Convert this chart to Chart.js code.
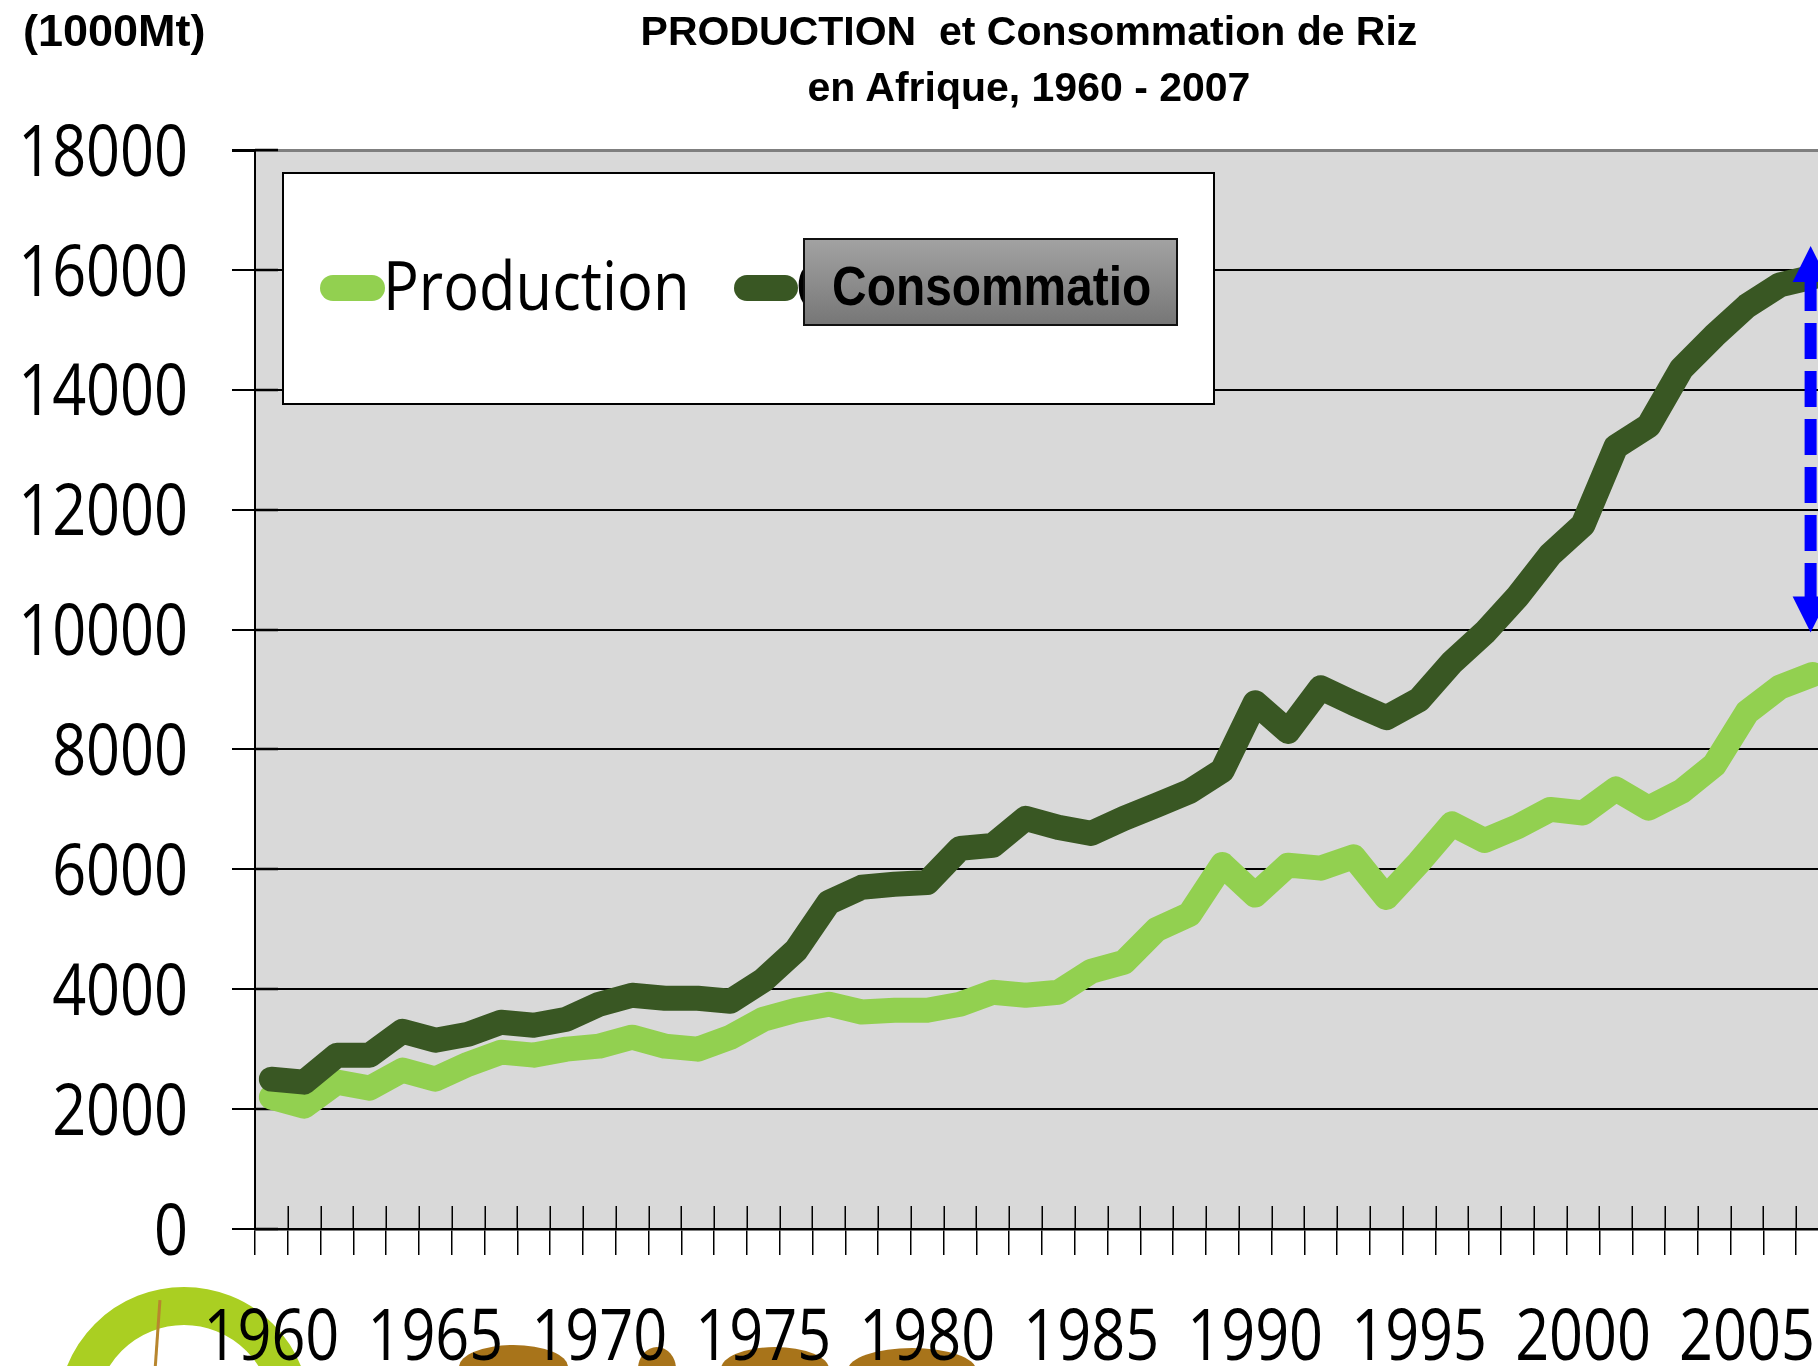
<!DOCTYPE html>
<html>
<head>
<meta charset="utf-8">
<script src="https://cdn.jsdelivr.net/npm/chart.js@4.4.1/dist/chart.umd.min.js"></script>
<style>
  html, body { margin: 0; padding: 0; background: #fff; overflow: hidden; }
  #wrap { position: relative; width: 1818px; height: 1366px; overflow: hidden; background: #fff; }
  #chart { position: absolute; left: 0; top: 0; z-index: 2; }
  .txt { position: absolute; font-family: 'Liberation Sans', Arial, sans-serif; font-weight: bold; color: #000; white-space: pre; z-index: 3; }
  #unit { left: 23px; top: 3px; font-size: 45px; line-height: 56px; }
  #title { left: 629px; top: 3px; width: 800px; text-align: center; font-size: 41px; line-height: 56px; }
  #cbox { position: absolute; left: 803px; top: 238px; width: 375px; height: 88px; box-sizing: border-box;
          border: 2px solid #111; background: linear-gradient(to bottom, #a2a2a2, #777777); z-index: 4; overflow: hidden; text-align: center; }
  #cbox span { display: inline-block; font-family: 'Liberation Sans', Arial, sans-serif;
               font-weight: bold; font-size: 56px; line-height: 92px; color: #000; white-space: pre;
               transform: scaleX(0.855); transform-origin: 50% 50%; }
  .logo { position: absolute; z-index: 1; }
  #ring { left: 58px; top: 1287px; width: 252px; height: 252px; border-radius: 50%; border: 38px solid #AACF22; box-sizing: border-box; background: #fff; }
  #stalk { left: 156px; top: 1300px; width: 3px; height: 70px; background: #B8862E; transform: rotate(4deg); }
  .brown { background: #A8741A; border-radius: 50% 50% 0 0 / 22px 22px 0 0; height: 40px; }
  #b1 { left: 459px; top: 1345px; width: 109px; }
  #b2 { left: 638px; top: 1347px; width: 38px; }
  #b3 { left: 721px; top: 1347px; width: 108px; }
  #b4 { left: 848px; top: 1348px; width: 128px; }
</style>
</head>
<body>
<div id="wrap">
  <div class="logo" id="ring"></div>
  <div class="logo" id="stalk"></div>
  <div class="logo brown" id="b1"></div>
  <div class="logo brown" id="b2"></div>
  <div class="logo brown" id="b3"></div>
  <div class="logo brown" id="b4"></div>
  <canvas id="chart" width="1854" height="1366"></canvas>
  <div class="txt" id="unit">(1000Mt)</div>
  <div class="txt" id="title">PRODUCTION  et Consommation de Riz
en Afrique, 1960 - 2007</div>
  <div id="cbox"><span>Consommatio</span></div>
</div>
<script>
// ---------- DATA ----------
const years = [1960,1961,1962,1963,1964,1965,1966,1967,1968,1969,
               1970,1971,1972,1973,1974,1975,1976,1977,1978,1979,
               1980,1981,1982,1983,1984,1985,1986,1987,1988,1989,
               1990,1991,1992,1993,1994,1995,1996,1997,1998,1999,
               2000,2001,2002,2003,2004,2005,2006,2007];
const production = [2200,2050,2450,2350,2650,2500,2750,2950,2900,3000,
                    3050,3200,3050,3000,3200,3500,3650,3750,3620,3650,
                    3650,3750,3950,3900,3950,4300,4450,5000,5250,6080,
                    5570,6070,6020,6210,5530,6120,6760,6480,6710,7000,
                    6940,7340,7020,7300,7740,8620,9040,9250];
const consumption = [2500,2450,2900,2900,3300,3150,3250,3450,3400,3500,
                     3750,3900,3850,3850,3800,4150,4650,5450,5700,5750,
                     5780,6350,6400,6850,6700,6600,6850,7070,7300,7650,
                     8780,8300,9030,8770,8530,8830,9450,9950,10550,11250,
                     11750,13050,13400,14350,14900,15400,15750,15880];
const seriesNames = ['Production', 'Consommation'];
const xTickLabels = ['1960','1965','1970','1975','1980','1985','1990','1995','2000','2005'];
const yTickLabels = ['0','2000','4000','6000','8000','10000','12000','14000','16000','18000'];
const gapArrow = { year: 2007, from: 16400, to: 9950 };

// ---------- STYLE ----------
const LABEL_FAMILY = "'Open Sans', 'Liberation Sans', sans-serif";
const TICK_SIZE = 72, TICK_SX = 0.825;
const LEG_SIZE = 67, LEG_SX = 0.89;
const CAP = 0.714;
const colProd = '#92D050';
const colCons = '#395723';

function scaledText(c, text, x, yCenter, size, sx, align) {
  c.save();
  c.font = size + 'px ' + LABEL_FAMILY;
  c.textAlign = align;
  c.textBaseline = 'alphabetic';
  c.translate(x, yCenter + CAP * size / 2);
  c.scale(sx, 1);
  c.fillText(text, 0, 0);
  c.restore();
}

const plotBg = {
  id: 'plotBg',
  beforeDraw(chart) {
    const a = chart.chartArea, c = chart.ctx;
    c.save(); c.fillStyle = '#D9D9D9';
    c.fillRect(a.left, a.top, a.right - a.left, a.bottom - a.top);
    c.restore();
  }
};

const innerTicks = {
  id: 'innerTicks',
  beforeDatasetsDraw(chart) {
    const c = chart.ctx, a = chart.chartArea, xs = chart.scales.x, ys = chart.scales.y;
    const step = xs.getPixelForValue(1) - xs.getPixelForValue(0);
    c.save();
    c.strokeStyle = '#000'; c.lineWidth = 1.5;
    for (let i = 1; i < years.length; i++) {
      const x = Math.round(xs.getPixelForValue(0) - step / 2 + i * step) + 0.25;
      c.beginPath(); c.moveTo(x, a.bottom - 23); c.lineTo(x, a.bottom); c.stroke();
    }
    c.lineWidth = 2.5;
    yTickLabels.forEach(t => {
      const y = Math.round(ys.getPixelForValue(Number(t)));
      c.beginPath(); c.moveTo(a.left, y); c.lineTo(a.left + 23, y); c.stroke();
    });
    c.restore();
  }
};

const tickText = {
  id: 'tickText',
  afterDraw(chart) {
    const c = chart.ctx, a = chart.chartArea, xs = chart.scales.x, ys = chart.scales.y;
    c.save();
    c.fillStyle = '#000';
    yTickLabels.forEach(t => {
      scaledText(c, t, a.left - 67, ys.getPixelForValue(Number(t)), TICK_SIZE, TICK_SX, 'right');
    });
    xTickLabels.forEach(t => {
      const idx = years.indexOf(Number(t));
      scaledText(c, t, xs.getPixelForValue(idx), a.bottom + 105, TICK_SIZE, TICK_SX, 'center');
    });
    c.restore();
  }
};

const boxLegend = {
  id: 'boxLegend',
  afterDatasetsDraw(chart) {
    const c = chart.ctx, a = chart.chartArea;
    const L = a.left + 28, T = a.top + 23, W = 931, H = 231;
    c.save();
    c.fillStyle = '#fff'; c.fillRect(L, T, W, H);
    c.strokeStyle = '#000'; c.lineWidth = 2; c.strokeRect(L, T, W, H);
    const cy = T + 115;
    const items = [
      { ds: chart.data.datasets[0], x0: L + 50, x1: L + 89, tx: L + 100 },
      { ds: chart.data.datasets[1], x0: L + 464, x1: L + 502, tx: L + 512 }
    ];
    items.forEach(it => {
      c.strokeStyle = it.ds.borderColor; c.lineWidth = 26; c.lineCap = 'round';
      c.beginPath(); c.moveTo(it.x0, cy); c.lineTo(it.x1, cy); c.stroke();
      c.save();
      c.beginPath(); c.rect(L, T, 895, H); c.clip();
      c.fillStyle = '#000';
      scaledText(c, it.ds.label, it.tx, cy - 2, LEG_SIZE, LEG_SX, 'left');
      c.restore();
    });
    c.restore();
  }
};

const arrowPlugin = {
  id: 'gapArrow',
  afterDatasetsDraw(chart) {
    const c = chart.ctx, xs = chart.scales.x, ys = chart.scales.y;
    const x = xs.getPixelForValue(years.indexOf(gapArrow.year)) - 2;
    const yTop = ys.getPixelForValue(gapArrow.from);
    const yBot = ys.getPixelForValue(gapArrow.to);
    const hw = 18, hl = 36;
    c.save();
    c.fillStyle = '#0000FF'; c.strokeStyle = '#0000FF';
    c.beginPath(); c.moveTo(x, yTop); c.lineTo(x - hw, yTop + hl); c.lineTo(x + hw, yTop + hl); c.closePath(); c.fill();
    c.beginPath(); c.moveTo(x, yBot); c.lineTo(x - hw, yBot - hl); c.lineTo(x + hw, yBot - hl); c.closePath(); c.fill();
    c.lineWidth = 12; c.lineCap = 'butt';
    c.setLineDash([36, 12]); c.lineDashOffset = 6;
    c.beginPath(); c.moveTo(x, yTop + hl - 1); c.lineTo(x, yBot - hl + 1); c.stroke();
    c.restore();
  }
};

new Chart(document.getElementById('chart'), {
  type: 'line',
  data: {
    labels: years.map(String),
    datasets: [
      { label: seriesNames[0], data: production, borderColor: colProd, backgroundColor: colProd,
        borderWidth: 25, pointRadius: 0, tension: 0, fill: false,
        borderCapStyle: 'round', borderJoinStyle: 'round', order: 2 },
      { label: seriesNames[1], data: consumption, borderColor: colCons, backgroundColor: colCons,
        borderWidth: 25, pointRadius: 0, tension: 0, fill: false,
        borderCapStyle: 'round', borderJoinStyle: 'round', order: 1 }
    ]
  },
  options: {
    responsive: false,
    animation: false,
    devicePixelRatio: 1,
    layout: { padding: { top: 150, right: 25, left: 0, bottom: 0 } },
    plugins: { legend: { display: false }, tooltip: { enabled: false }, title: { display: false } },
    scales: {
      x: {
        type: 'category',
        offset: true,
        grid: { offset: true, drawOnChartArea: false, drawTicks: true, tickLength: 26, color: '#000', tickColor: '#000', lineWidth: 1.5 },
        border: { display: true, color: '#000', width: 2.5 },
        ticks: { display: false, autoSkip: false, maxRotation: 0, minRotation: 0 },
        afterFit: s => { s.height = 137; }
      },
      y: {
        min: 0, max: 18000,
        afterBuildTicks: s => { s.ticks = yTickLabels.map(t => ({ value: Number(t) })); },
        ticks: { display: false },
        grid: {
          color: ctx => (ctx.tick && ctx.tick.value === 18000) ? '#7F7F7F' : '#000',
          lineWidth: ctx => (ctx.tick && ctx.tick.value === 18000) ? 3 : 2,
          tickColor: '#000', tickLength: 23, drawTicks: true
        },
        border: { display: true, color: '#000', width: 2 },
        afterFit: s => { s.width = 255; }
      }
    }
  },
  plugins: [plotBg, innerTicks, boxLegend, arrowPlugin, tickText]
});
</script>
</body>
</html>
